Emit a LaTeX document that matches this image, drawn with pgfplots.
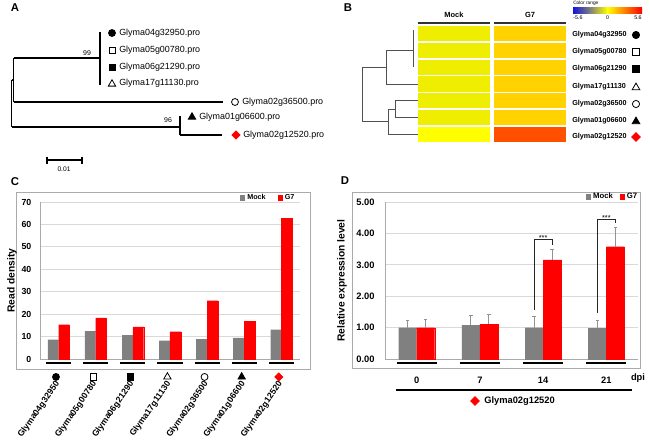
\documentclass[border=0pt]{standalone}
\usepackage{fontspec}
\setmainfont{Liberation Sans}
\usepackage{pgfplots}
\pgfplotsset{compat=1.18}
\definecolor{mockgray}{RGB}{128,128,128}
\definecolor{gsred}{RGB}{255,0,0}
\definecolor{gridc}{RGB}{217,217,217}
\definecolor{framec}{RGB}{170,170,170}
\definecolor{hmMock}{RGB}{240,238,0}
\definecolor{hmMockB}{RGB}{255,255,0}
\definecolor{hmG}{RGB}{255,210,0}
\definecolor{hmGB}{RGB}{255,80,0}
\definecolor{dendro}{RGB}{80,80,80}
\definecolor{cbBlue}{RGB}{20,20,220}
\definecolor{cbGray}{RGB}{130,130,120}
\newcommand{\fs}[1]{\fontsize{#1}{#1}\selectfont}
\pgfplotsset{
  tr/.style={black, line width=0.8pt, mark=none, forget plot},
  dg/.style={dendro, line width=0.6pt, mark=none, forget plot},
  mk/.style={only marks, forget plot, black, line width=0.6pt},
}
\begin{document}
\begin{tikzpicture}
\useasboundingbox (0,0) rectangle (487.5pt,334.5pt);
% ---------- overlay axis in pixel coordinates ----------
\begin{axis}[at={(0pt,0pt)}, anchor=south west, scale only axis,
  width=487.5pt, height=334.5pt, xmin=0, xmax=650, ymin=0, ymax=446,
  y dir=reverse, hide axis, clip=false]
% panel letters
\node[font=\fs{8.5}\bfseries] at (15,8) {A};
\node[font=\fs{8.5}\bfseries] at (348,8) {B};
\node[font=\fs{8.5}\bfseries] at (15,182) {C};
\node[font=\fs{8.5}\bfseries] at (345,181) {D};
% frames of C and D
\addplot[framec, line width=0.7pt, mark=none, forget plot] coordinates {(16,192) (310,192) (310,369) (16,369) (16,192)};
\addplot[framec, line width=0.7pt, mark=none, forget plot] coordinates {(352,192) (640,192) (640,368) (352,368) (352,192)};
% ---- tree (A) ----
\addplot[tr] coordinates {(11.5,80) (11.5,127)};
\addplot[tr] coordinates {(11.5,80) (13.5,80)};
\addplot[tr] coordinates {(13.5,58) (13.5,102)};
\addplot[tr] coordinates {(13.5,58) (100,58)};
\addplot[tr] coordinates {(100,32) (100,85)};
\addplot[tr] coordinates {(13.5,102) (223,102)};
\addplot[tr] coordinates {(11.5,127) (180,127)};
\addplot[tr] coordinates {(180,116) (180,135)};
\addplot[tr] coordinates {(180,135) (222,135)};
\addplot[mk, mark=*, mark size=2.6pt] coordinates {(112,33)};
\addplot[mk, mark=square, mark size=2.3pt] coordinates {(112,50)};
\addplot[mk, mark=square*, mark size=2.3pt] coordinates {(112,67)};
\addplot[mk, mark=triangle, mark size=3.2pt] coordinates {(112,84)};
\addplot[mk, mark=o, mark size=2.6pt] coordinates {(235,102)};
\addplot[mk, mark=triangle*, mark size=3.2pt] coordinates {(192,117)};
\addplot[mk, mark=square*, mark size=2.1pt, red, mark options={rotate=45}] coordinates {(236,135)};
\begin{scope}[every node/.style={anchor=west, inner sep=0pt, font=\fs{6.7}}]
\node at (119,33) {Glyma04g32950.pro};
\node at (119,50) {Glyma05g00780.pro};
\node at (119,67) {Glyma06g21290.pro};
\node at (119,83) {Glyma17g11130.pro};
\node at (242,102) {Glyma02g36500.pro};
\node at (199,117) {Glyma01g06600.pro};
\node at (243,135) {Glyma02g12520.pro};
\end{scope}
\node[font=\fs{5.2}] at (87,53) {99};
\node[font=\fs{5.2}] at (168,120) {96};
\addplot[tr] coordinates {(47,160) (82,160)};
\addplot[tr] coordinates {(47,156.5) (47,163.5)};
\addplot[tr] coordinates {(82,156.5) (82,163.5)};
\node[font=\fs{5}] at (64,169) {0.01};
% ---- heat map (B) ----
\addplot[fill=hmMock, draw=none, forget plot] coordinates {(418,26.0) (490,26.0) (490,41.2) (418,41.2)};
\addplot[fill=hmMock, draw=none, forget plot] coordinates {(418,42.8) (490,42.8) (490,58.0) (418,58.0)};
\addplot[fill=hmMock, draw=none, forget plot] coordinates {(418,59.6) (490,59.6) (490,74.8) (418,74.8)};
\addplot[fill=hmMock, draw=none, forget plot] coordinates {(418,76.3) (490,76.3) (490,91.5) (418,91.5)};
\addplot[fill=hmMock, draw=none, forget plot] coordinates {(418,93.1) (490,93.1) (490,108.3) (418,108.3)};
\addplot[fill=hmMock, draw=none, forget plot] coordinates {(418,109.9) (490,109.9) (490,125.1) (418,125.1)};
\addplot[fill=hmMockB, draw=none, forget plot] coordinates {(418,126.7) (490,126.7) (490,141.9) (418,141.9)};
\addplot[fill=hmG, draw=none, forget plot] coordinates {(494,26.0) (566,26.0) (566,41.2) (494,41.2)};
\addplot[fill=hmG, draw=none, forget plot] coordinates {(494,42.8) (566,42.8) (566,58.0) (494,58.0)};
\addplot[fill=hmG, draw=none, forget plot] coordinates {(494,59.6) (566,59.6) (566,74.8) (494,74.8)};
\addplot[fill=hmG, draw=none, forget plot] coordinates {(494,76.3) (566,76.3) (566,91.5) (494,91.5)};
\addplot[fill=hmG, draw=none, forget plot] coordinates {(494,93.1) (566,93.1) (566,108.3) (494,108.3)};
\addplot[fill=hmG, draw=none, forget plot] coordinates {(494,109.9) (566,109.9) (566,125.1) (494,125.1)};
\addplot[fill=hmGB, draw=none, forget plot] coordinates {(494,126.7) (566,126.7) (566,141.9) (494,141.9)};
% headers
\addplot[black!80, line width=1pt, mark=none, forget plot] coordinates {(418,23) (490,23)};
\addplot[black!80, line width=1pt, mark=none, forget plot] coordinates {(494,23) (566,23)};
\node[font=\fs{5.6}\bfseries] at (454,15) {Mock};
\node[font=\fs{5.6}\bfseries] at (530,15) {G7};
% dendrogram
\addplot[dg] coordinates {(362,67.2) (362,121.7)};
\addplot[dg] coordinates {(362,67.2) (386,67.2)};
\addplot[dg] coordinates {(386,50.4) (386,83.9)};
\addplot[dg] coordinates {(386,50.4) (413,50.4)};
\addplot[dg] coordinates {(413,30) (413,67.2)};
\addplot[dg] coordinates {(386,83.9) (418,83.9)};
\addplot[dg] coordinates {(362,121.7) (388,121.7)};
\addplot[dg] coordinates {(388,109) (388,134.3)};
\addplot[dg] coordinates {(388,109) (395,109)};
\addplot[dg] coordinates {(395,100.7) (395,117.5)};
\addplot[dg] coordinates {(395,100.7) (418,100.7)};
\addplot[dg] coordinates {(395,117.5) (418,117.5)};
\addplot[dg] coordinates {(388,134.3) (418,134.3)};
% row labels
\begin{scope}[every node/.style={anchor=west, inner sep=0pt, font=\fs{5.4}\bfseries}]
\node at (572,35) {Glyma04g32950};
\node at (572,52) {Glyma05g00780};
\node at (572,69) {Glyma06g21290};
\node at (572,86.5) {Glyma17g11130};
\node at (572,103.5) {Glyma02g36500};
\node at (572,120.5) {Glyma01g06600};
\node at (572,137) {Glyma02g12520};
\end{scope}
\addplot[mk, mark=*, mark size=2.7pt] coordinates {(636,35)};
\addplot[mk, mark=square, mark size=2.4pt] coordinates {(636,52)};
\addplot[mk, mark=square*, mark size=2.4pt] coordinates {(636,69)};
\addplot[mk, mark=triangle, mark size=3.3pt] coordinates {(636,87.5)};
\addplot[mk, mark=o, mark size=2.7pt] coordinates {(636,104)};
\addplot[mk, mark=triangle*, mark size=3.3pt] coordinates {(636,121.5)};
\addplot[mk, mark=square*, mark size=2.3pt, red, mark options={rotate=45}] coordinates {(636,137)};
% colour bar
\shade[left color=cbBlue, right color=cbGray] (573,7) rectangle (590.5,13.5);
\shade[left color=cbGray, right color=yellow] (590.3,7) rectangle (607.7,13.5);
\shade[left color=yellow, right color=red] (607.5,7) rectangle (642,13.5);
\node[font=\fs{3.6}, anchor=west, inner sep=0pt] at (573,3) {Color range};
\node[font=\fs{4}] at (578,18) {-5.6};
\node[font=\fs{4}] at (607.5,18) {0};
\node[font=\fs{4}] at (638,18) {5.6};
\end{axis}
% ---------- panel C ----------
\begin{axis}[at={(30pt,65.25pt)}, anchor=south west, scale only axis,
  width=195pt, height=117.75pt,
  xmin=-0.5, xmax=6.5, ymin=0, ymax=70, ytick={0,10,...,70}, xtick=\empty,
  ymajorgrids, grid style={gridc, line width=0.6pt},
  axis lines*=left, axis line style={framec, line width=0.6pt, -},
  major tick length=0pt,
  /pgf/number format/assume math mode=true,
  yticklabel style={font=\fs{6.6}\bfseries, xshift=-3pt},
  ylabel={\bfseries Read density},
  ylabel style={at={(axis description cs:-0.108,0.5)}, anchor=center, font=\fs{7.7}},
  clip=false,
  legend style={at={(axis description cs:0.99,1.027)}, anchor=east, draw=none, fill=none,
    font=\fs{5.4}\bfseries, legend columns=2, inner sep=0pt,
    /tikz/every even column/.append style={column sep=7pt}},
]
\addlegendimage{legend image code/.code={\fill[mockgray] (0pt,-1.9pt) rectangle (3pt,1.9pt);}}
\addlegendentry{Mock}
\addlegendimage{legend image code/.code={\fill[gsred] (0pt,-1.9pt) rectangle (3pt,1.9pt);}}
\addlegendentry{G7}
\addplot[ybar, bar width=0.29, bar shift=0, fill=mockgray, draw=mockgray, line width=0.1pt, forget plot]
  coordinates {(-0.145,8.6) (0.855,12.3) (1.855,10.5) (2.855,8.2) (3.855,8.8) (4.855,9.4) (5.855,13.1)};
\addplot[ybar, bar width=0.29, bar shift=0, fill=gsred, draw=gsred, line width=0.1pt, forget plot]
  coordinates {(0.145,15.3) (1.145,18.3) (2.145,14.3) (3.145,12.2) (4.145,26.0) (5.145,16.9) (6.145,62.7)};
\addplot[black, line width=1.4pt, mark=none, forget plot, unbounded coords=jump]
  coordinates {(-0.34,-1.8) (0.34,-1.8) (0.5,nan) (0.66,-1.8) (1.34,-1.8) (1.5,nan)
  (1.66,-1.8) (2.34,-1.8) (2.5,nan) (2.66,-1.8) (3.34,-1.8) (3.5,nan)
  (3.66,-1.8) (4.34,-1.8) (4.5,nan) (4.66,-1.8) (5.34,-1.8) (5.5,nan)
  (5.66,-1.8) (6.34,-1.8)};
\addplot[mk, mark=*, mark size=2.6pt] coordinates {(-0.07,-8.0)};
\addplot[mk, mark=square, mark size=2.3pt, mark options={fill=white}] coordinates {(0.93,-8.0)};
\addplot[mk, mark=square*, mark size=2.3pt] coordinates {(1.93,-8.0)};
\addplot[mk, mark=triangle, mark size=3.2pt, mark options={fill=white}] coordinates {(2.93,-8.0)};
\addplot[mk, mark=o, mark size=2.6pt, mark options={fill=white}] coordinates {(3.93,-8.0)};
\addplot[mk, mark=triangle*, mark size=3.2pt] coordinates {(4.93,-8.0)};
\addplot[mk, mark=square*, mark size=2.1pt, red, mark options={rotate=45}] coordinates {(5.93,-8.0)};
\begin{scope}[every node/.style={rotate=55, anchor=east, inner sep=0pt, font=\fs{6.5}\bfseries, xshift=-2.6pt, yshift=-3.6pt}]
\node at (axis cs:-0.07,-8.0) {Glyma04g32950};
\node at (axis cs:0.93,-8.0) {Glyma05g00780};
\node at (axis cs:1.93,-8.0) {Glyma06g21290};
\node at (axis cs:2.93,-8.0) {Glyma17g11130};
\node at (axis cs:3.93,-8.0) {Glyma02g36500};
\node at (axis cs:4.93,-8.0) {Glyma01g06600};
\node at (axis cs:5.93,-8.0) {Glyma02g12520};
\end{scope}
\end{axis}
% ---------- panel D ----------
\begin{axis}[at={(288.75pt,65.25pt)}, anchor=south west, scale only axis,
  width=189.75pt, height=117.75pt,
  xmin=-0.5, xmax=3.5, ymin=0, ymax=5, ytick={0,1,...,5}, xtick=\empty,
  ymajorgrids, grid style={gridc, line width=0.6pt},
  axis lines*=left, axis line style={framec, line width=0.6pt, -},
  major tick length=0pt,
  /pgf/number format/assume math mode=true,
  yticklabel style={font=\fs{7}\bfseries, xshift=-4.3pt,
    /pgf/number format/fixed, /pgf/number format/fixed zerofill, /pgf/number format/precision=2},
  ylabel={\bfseries Relative expression level},
  ylabel style={at={(axis description cs:-0.170,0.5)}, anchor=center, font=\fs{7.7}},
  clip=false,
  legend style={at={(axis description cs:1.008,1.032)}, anchor=east, draw=none, fill=none,
    font=\fs{5.8}\bfseries, legend columns=2, inner sep=0pt,
    /tikz/every even column/.append style={column sep=3pt}},
]
\addlegendimage{legend image code/.code={\fill[mockgray] (0pt,-2pt) rectangle (3pt,2pt);}}
\addlegendentry{Mock}
\addlegendimage{legend image code/.code={\fill[gsred] (0pt,-2pt) rectangle (3pt,2pt);}}
\addlegendentry{G7}
\addplot[ybar, bar width=0.285, bar shift=0, fill=mockgray, draw=mockgray, line width=0.1pt, forget plot,
  error bars/.cd, y dir=plus, y explicit,
  error bar style={draw=gray!85, line width=0.6pt},
  error mark options={rotate=90, draw=gray!85, mark size=1.3pt, line width=0.6pt}]
  coordinates {(-0.1425,1.00) +- (0,0.23) (0.8575,1.08) +- (0,0.31) (1.8575,1.00) +- (0,0.36) (2.8575,0.98) +- (0,0.25)};
\addplot[ybar, bar width=0.285, bar shift=0, fill=gsred, draw=gsred, line width=0.1pt, forget plot,
  error bars/.cd, y dir=plus, y explicit,
  error bar style={draw=gray!85, line width=0.6pt},
  error mark options={rotate=90, draw=gray!85, mark size=1.3pt, line width=0.6pt}]
  coordinates {(0.1425,1.00) +- (0,0.25) (1.1425,1.11) +- (0,0.31) (2.1425,3.16) +- (0,0.34) (3.1425,3.58) +- (0,0.62)};
% significance brackets
\addplot[black!85, line width=0.6pt, mark=none, forget plot] coordinates {(1.8575,1.56) (1.8575,3.80) (2.1425,3.80) (2.1425,3.64)};
\addplot[black!85, line width=0.6pt, mark=none, forget plot] coordinates {(2.8575,1.46) (2.8575,4.46) (3.1425,4.46) (3.1425,4.33)};
\node[font=\fs{5.5}, anchor=base, inner sep=0pt, yshift=-0.9pt] at (axis cs:2,3.80) {***};
\node[font=\fs{5.5}, anchor=base, inner sep=0pt, yshift=-0.9pt] at (axis cs:3,4.46) {***};
% group lines
\addplot[black, line width=1.4pt, mark=none, forget plot, unbounded coords=jump]
  coordinates {(-0.316,-0.127) (0.316,-0.127) (0.5,nan) (0.684,-0.127) (1.316,-0.127) (1.5,nan)
  (1.684,-0.127) (2.316,-0.127) (2.5,nan) (2.684,-0.127) (3.316,-0.127)};
\begin{scope}[every node/.style={font=\fs{7}\bfseries, inner sep=0pt}]
\node at (axis cs:0,-0.67) {0};
\node at (axis cs:1,-0.67) {7};
\node at (axis cs:2,-0.67) {14};
\node at (axis cs:3,-0.67) {21};
\node at (axis cs:3.5,-0.605) {dpi};
\end{scope}
\addplot[black, line width=1pt, mark=none, forget plot] coordinates {(-0.326,-0.987) (3.405,-0.987)};
\addplot[mk, mark=square*, mark size=2.3pt, red, mark options={rotate=45}] coordinates {(0.923,-1.338)};
\node[font=\fs{7}\bfseries, anchor=west, inner sep=0pt] at (axis cs:1.065,-1.338) {Glyma02g12520};
\end{axis}
\end{tikzpicture}
\end{document}
